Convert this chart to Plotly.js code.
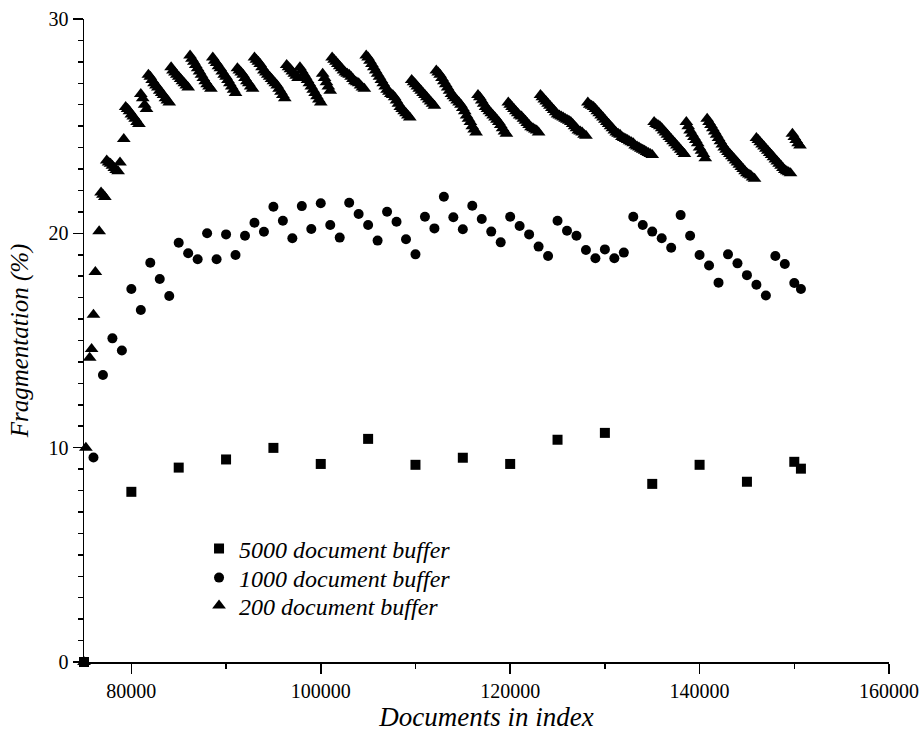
<!DOCTYPE html>
<html>
<head>
<meta charset="utf-8">
<script src="https://cdn.plot.ly/plotly-3.0.1.min.js"></script>
<style>html,body{margin:0;padding:0;background:#fff}#chart{width:924px;height:732px}</style>
</head>
<body>
<div id="chart"></div>
<script>
// 5000 document buffer
const sqX = [75000, 80000, 85000, 90000, 95000, 100000, 105000, 110000, 115000, 120000, 125000, 130000, 135000, 140000, 145000, 150000, 150700];
const sqY = [0, 7.94, 9.07, 9.45, 9.99, 9.24, 10.41, 9.2, 9.53, 9.24, 10.37, 10.69, 8.31, 9.2, 8.41, 9.34, 9.02];

// 1000 document buffer
const ciX = [75000, 76000, 77000, 78000, 79000, 80000, 81000, 82000, 83000, 84000, 85000, 86000, 87000, 88000, 89000, 90000,
  91000, 92000, 93000, 94000, 95000, 96000, 97000, 98000, 99000, 100000, 101000, 102000, 103000, 104000, 105000,
  106000, 107000, 108000, 109000, 110000, 111000, 112000, 113000, 114000, 115000, 116000, 117000, 118000, 119000, 120000,
  121000, 122000, 123000, 124000, 125000, 126000, 127000, 128000, 129000, 130000, 131000, 132000, 133000, 134000, 135000,
  136000, 137000, 138000, 139000, 140000, 141000, 142000, 143000, 144000, 145000, 146000, 147000, 148000, 149000, 150000, 150700];
const ciY = [0, 9.54, 13.39, 15.1, 14.53, 17.4, 16.42, 18.63, 17.87, 17.08, 19.56, 19.07, 18.79, 20.0, 18.79, 19.95,
  18.99, 19.89, 20.49, 20.07, 21.24, 20.59, 19.77, 21.27, 20.2, 21.4, 20.39, 19.8, 21.43, 20.9, 20.39,
  19.66, 21.01, 20.54, 19.72, 19.02, 20.77, 20.23, 21.71, 20.75, 20.19, 21.29, 20.67, 20.08, 19.58, 20.77,
  20.34, 19.95, 19.38, 18.94, 20.59, 20.12, 19.89, 19.22, 18.84, 19.25, 18.84, 19.1, 20.77, 20.39, 20.08,
  19.77, 19.33, 20.85, 19.89, 18.99, 18.5, 17.7, 19.02, 18.6, 18.05, 17.6, 17.1, 18.94, 18.57, 17.68, 17.4];

// 200 document buffer: isolated early readings
const trSingleX = [75000, 75200, 75600, 75800, 76000, 76200, 76600, 78800, 79200];
const trSingleY = [0, 10.0, 14.2, 14.6, 16.2, 18.2, 20.1, 23.3, 24.4];
// 200 document buffer: runs sampled every 200 documents, first document count of each run
const trRunStep = 200;
const trRunStart = [76800, 77400, 79400, 81000, 81800, 84200, 86200, 88600, 91200, 93000, 96400, 97800, 100200, 101200,
  104800, 109600, 112200, 116600, 119800, 123200, 128200, 135200, 138600, 140800, 146000, 149800];
const trRunValues = [
  [21.9, 21.8, 21.7],
  [23.4, 23.3, 23.25, 23.15, 23.05, 22.95, 22.9],
  [25.9, 25.8, 25.7, 25.55, 25.45, 25.35, 25.2, 25.1],
  [26.5, 26.3, 26.0, 25.8],
  [27.4, 27.3, 27.15, 27.0, 26.9, 26.8, 26.65, 26.55, 26.45, 26.3, 26.2, 26.1],
  [27.75, 27.6, 27.5, 27.4, 27.3, 27.2, 27.1, 27.0, 26.9, 26.8],
  [28.3, 28.15, 28.0, 27.85, 27.7, 27.55, 27.4, 27.25, 27.1, 26.95, 26.85, 26.75],
  [28.2, 28.05, 27.95, 27.8, 27.7, 27.55, 27.4, 27.3, 27.15, 27.0, 26.85, 26.7, 26.55],
  [27.7, 27.6, 27.5, 27.4, 27.25, 27.1, 27.0, 26.85, 26.75],
  [28.2, 28.1, 28.0, 27.9, 27.75, 27.6, 27.5, 27.4, 27.3, 27.2, 27.1, 27.0, 26.9, 26.75, 26.6, 26.45, 26.3],
  [27.85, 27.75, 27.65, 27.55, 27.45, 27.35, 27.25],
  [27.75, 27.6, 27.45, 27.3, 27.15, 27.0, 26.85, 26.7, 26.55, 26.4, 26.25, 26.1],
  [27.45, 27.25, 27.05, 26.85, 26.65],
  [28.2, 28.1, 28.0, 27.9, 27.8, 27.7, 27.6, 27.5, 27.45, 27.4, 27.3, 27.2, 27.1, 27.05, 27.0, 26.9, 26.8, 26.75],
  [28.3, 28.2, 28.05, 27.9, 27.75, 27.6, 27.45, 27.3, 27.15, 27.0, 26.85, 26.7, 26.6, 26.5, 26.45, 26.35, 26.2, 26.05, 25.9, 25.8, 25.7, 25.6, 25.5, 25.4],
  [27.15, 27.05, 26.95, 26.85, 26.75, 26.65, 26.55, 26.45, 26.35, 26.25, 26.15, 26.05, 25.95],
  [27.6, 27.5, 27.4, 27.25, 27.1, 26.95, 26.8, 26.65, 26.5, 26.4, 26.3, 26.2, 26.1, 26.0, 25.85, 25.7, 25.5, 25.35, 25.2, 25.0, 24.85, 24.7],
  [26.45, 26.35, 26.2, 26.05, 25.9, 25.8, 25.7, 25.6, 25.5, 25.4, 25.3, 25.2, 25.05, 24.9, 24.75, 24.65],
  [26.1, 26.0, 25.9, 25.8, 25.7, 25.6, 25.5, 25.45, 25.35, 25.25, 25.15, 25.05, 24.95, 24.9, 24.85, 24.8, 24.7],
  [26.45, 26.35, 26.25, 26.15, 26.05, 25.95, 25.85, 25.75, 25.65, 25.55, 25.5, 25.45, 25.4, 25.35, 25.3, 25.25, 25.2, 25.1, 25.0, 24.9, 24.8, 24.75, 24.7, 24.6, 24.55],
  [26.1, 26.0, 25.95, 25.9, 25.8, 25.7, 25.6, 25.5, 25.4, 25.3, 25.2, 25.1, 25.0, 24.9, 24.8, 24.7, 24.65, 24.6, 24.5, 24.45, 24.4, 24.35, 24.3, 24.25, 24.2, 24.1, 24.05, 24.0, 23.95, 23.9, 23.85, 23.8, 23.75, 23.7, 23.65],
  [25.2, 25.1, 25.05, 25.0, 24.9, 24.8, 24.7, 24.6, 24.5, 24.4, 24.3, 24.2, 24.1, 24.0, 23.9, 23.8, 23.7],
  [25.2, 25.0, 24.8, 24.65, 24.5, 24.35, 24.2, 24.0, 23.85, 23.7, 23.5],
  [25.35, 25.2, 25.05, 24.9, 24.75, 24.6, 24.45, 24.3, 24.15, 24.0, 23.9, 23.8, 23.7, 23.6, 23.5, 23.4, 23.3, 23.2, 23.1, 23.0, 22.9, 22.8, 22.75, 22.7, 22.6, 22.55],
  [24.45, 24.35, 24.25, 24.15, 24.05, 23.95, 23.85, 23.75, 23.65, 23.55, 23.45, 23.35, 23.25, 23.15, 23.05, 22.95, 22.9, 22.85, 22.8],
  [24.65, 24.5, 24.35, 24.2, 24.1]
];

const legendNames = ['5000 document buffer', '1000 document buffer', '200 document buffer'];
const xTickVals = [80000, 100000, 120000, 140000, 160000];
const xTickLabels = ['80000', '100000', '120000', '140000', '160000'];

// assemble the 200-buffer series from its readings
const trX = trSingleX.slice();
const trY = trSingleY.slice();
trRunStart.forEach((s, k) => {
  trRunValues[k].forEach((v, i) => { trX.push(s + i * trRunStep); trY.push(v); });
});

const mk = (sym, size) => ({symbol: sym, size: size, color: '#000', line: {width: 0}});
const traces = [
  {x: sqX, y: sqY, type: 'scatter', mode: 'markers', name: legendNames[0], legend: 'legend', marker: mk('square', 10), cliponaxis: false},
  {x: ciX, y: ciY, type: 'scatter', mode: 'markers', name: legendNames[1], legend: 'legend2', marker: mk('circle', 10), cliponaxis: false},
  {x: trX, y: trY, type: 'scatter', mode: 'markers', name: legendNames[2], legend: 'legend3', marker: mk('triangle-up', 12), cliponaxis: false}
];

const serif = 'Liberation Serif, Times New Roman, Times, serif';
const tickFont = {family: serif, size: 20, color: '#000'};
const legFont = {family: serif, size: 24, color: '#000', style: 'italic'};
const leg = (y) => ({x: 0.1429, y: y, xanchor: 'left', yanchor: 'middle', bgcolor: 'rgba(0,0,0,0)',
  borderwidth: 0, font: legFont, itemwidth: 30});

const layout = {
  width: 924, height: 732,
  margin: {l: 84, r: 35, t: 19, b: 70, pad: 0},
  paper_bgcolor: '#fff', plot_bgcolor: '#fff',
  showlegend: true,
  legend: leg(0.1757),
  legend2: leg(0.1306),
  legend3: leg(0.0871),
  xaxis: {
    range: [75000, 160000], tickmode: 'array', tickvals: xTickVals, ticktext: xTickLabels,
    ticks: 'outside', ticklen: 10, tickwidth: 1.5, tickcolor: '#000',
    minor: {dtick: 10000, tick0: 0, ticks: 'outside', ticklen: 5, tickwidth: 1.5, tickcolor: '#000'},
    showline: true, linecolor: '#000', linewidth: 1.5, showgrid: false, zeroline: false,
    tickfont: tickFont,
    title: {text: 'Documents in index', font: {family: serif, size: 27, color: '#000', style: 'italic'}, standoff: 6}
  },
  yaxis: {
    range: [0, 30], dtick: 10, tick0: 0,
    ticks: 'outside', ticklen: 10, tickwidth: 1.5, tickcolor: '#000',
    minor: {dtick: 1, tick0: 0, ticks: 'outside', ticklen: 5, tickwidth: 1.5, tickcolor: '#000'},
    showline: true, linecolor: '#000', linewidth: 1.5, showgrid: false, zeroline: false,
    tickfont: tickFont,
    title: {text: 'Fragmentation (%)', font: {family: serif, size: 25, color: '#000', style: 'italic'}, standoff: 13}
  }
};

Plotly.newPlot('chart', traces, layout, {displayModeBar: false, staticPlot: true});
</script>
</body>
</html>
